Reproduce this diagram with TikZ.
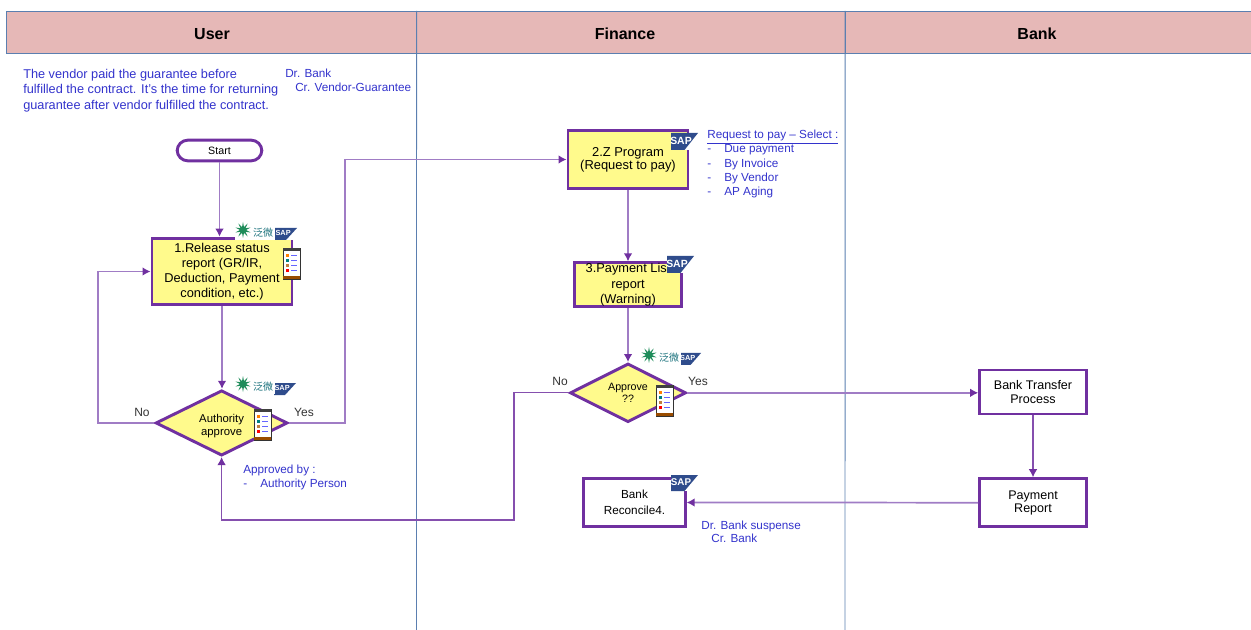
\documentclass[tikz,border=0pt]{standalone}
\usepackage{fontspec}
\setmainfont{Liberation Sans}
\newfontfamily\cjk{Noto Sans CJK SC}
\usepackage{tikz}
\usetikzlibrary{arrows.meta,shapes.geometric,positioning}
\definecolor{lanehead}{HTML}{E6B8B7}
\definecolor{laneline}{HTML}{5B7FB0}
\definecolor{boxline}{HTML}{7030A0}
\definecolor{flowline}{HTML}{A07CC5}
\definecolor{boxfill}{HTML}{FFFA8C}
\definecolor{notetext}{HTML}{3333CC}
\definecolor{sapblue}{HTML}{2F4C8C}
\definecolor{weavergreen}{HTML}{1E8C5A}
\tikzstyle{head} = [rectangle, draw=laneline, fill=lanehead, line width=.7pt, outer sep=0pt,
    minimum height=31.5pt, inner sep=0pt]
\tikzstyle{title} = [inner sep=0pt, font=\fontsize{12}{14}\selectfont\bfseries]
\tikzstyle{block} = [rectangle, draw=boxline, fill=boxfill, line width=2.2pt,
    align=center, inner sep=0pt, font=\fontsize{9.6}{11.4}\selectfont]
\tikzstyle{plainblock} = [block, fill=white, font=\fontsize{9.4}{9.9}\selectfont]
\tikzstyle{decision} = [diamond, aspect=2, draw=boxline, fill=boxfill, line width=2.2pt,
    align=center, inner sep=0pt, font=\fontsize{8.5}{9.4}\selectfont]
\tikzstyle{terminal} = [rectangle, rounded corners=8pt, draw=boxline, fill=white, line width=2.2pt,
    minimum width=63.5pt, minimum height=15.5pt, inner sep=0pt, font=\fontsize{8}{10}\selectfont]
\tikzstyle{flow} = [draw=flowline, line width=1.3pt, -{Latex[length=6pt,width=6.5pt,color=boxline]}]
\tikzstyle{darkflow} = [flow, draw=boxline!85, line width=.9pt]
\tikzstyle{note} = [anchor=north west, align=left, inner sep=0pt, text=notetext,
    font=\fontsize{8.8}{10.6}\selectfont]
\tikzstyle{answer} = [inner sep=0pt, text=black!80, font=\fontsize{9}{10}\selectfont]
\newcommand{\dashitem}[1]{\makebox[12.75pt][l]{-}#1}
% name, left, top, width, height
\newcommand{\saplogo}[5]{
  \pgfmathsetmacro{\sapsize}{#5*0.46}
  \fill[white] (#2,#3) rectangle ++(#4,#5);
  \fill[sapblue] (#2,#3) -- ++(#4,0) -- ++(-0.5*#4,#5) -- ++(-0.5*#4,0) -- cycle;
  \node[inner sep=0pt, text=white, font=\fontsize{\sapsize}{8}\selectfont\bfseries]
    (#1) at (#2+0.37*#4,#3+0.45*#5) {SAP};
}
% name, left, top
\newcommand{\weaverlogo}[3]{
  \fill[white] (#2,#3) rectangle ++(40,18);
  \node[star, star points=10, star point ratio=2.6, fill=weavergreen, inner sep=0pt, minimum size=12pt]
    (#1star) at (#2+8,#3+8) {};
  \node[inner sep=0pt, text=weavergreen!80!blue, font=\fontsize{7.5}{8}\selectfont\cjk]
    (#1text) at (#2+28,#3+11) {泛微};
}
% name, left, top
\newcommand{\phoneicon}[3]{
  \node[rectangle, draw=black!80, fill=white, line width=.6pt, minimum width=12.5pt, minimum height=23pt,
    inner sep=0pt, anchor=north west] (#1) at (#2,#3) {};
  \fill[black!75] (#2,#3) rectangle ++(17,3);
  \fill[orange!60!black] (#2,#3+28) rectangle ++(17,3);
  \foreach \row/\col in {6/orange,11/teal,16/brown,21/red}
    {
    \fill[\col] (#2+3,#3+\row) rectangle ++(3,3);
    \fill[blue!60] (#2+8,#3+\row+1) rectangle ++(6,1.2);
    }
}

\begin{document}
\begin{tikzpicture}[x=.75pt,y=-.75pt]
  \useasboundingbox (0,0) rectangle (1251,630);
  % Place lanes
  \node [head, minimum width=307.9pt, anchor=north west] (userhead) at (6,11) {};
  \node [head, minimum width=321.4pt, anchor=north west] (financehead) at (userhead.north east) {};
  \node [head, minimum width=304.5pt, anchor=north west] (bankhead) at (financehead.north east) {};
  \node [title] (usertitle) at (212,34) {User};
  \node [title] (financetitle) at (625,34) {Finance};
  \node [title] (banktitle) at (1037,34) {Bank};
  \coordinate (userend) at (416.5,630);
  \coordinate (financeend) at (845,630);
  \draw[laneline, line width=.7pt] (userhead.north east) -- (userend);
  \draw[laneline, line width=.7pt] (financehead.north east) -- (financeend);
  % Place nodes
  \node [terminal] (start) at (219.5,150.5) {Start};
  \node [block, minimum width=105pt, minimum height=50pt] (release) at (222,271.5)
  {1.Release status\\report (GR/IR,\\Deduction, Payment\\condition, etc.)};
  \node [decision, minimum width=99pt, minimum height=49pt, below of=release, node distance=113.6pt, xshift=-.3pt] (authority)
  {\rule{0pt}{10.5pt}Authority\\approve};
  \node [block, minimum width=90pt, minimum height=44pt, font=\fontsize{9.7}{9.9}\selectfont] (program) at (628,159.5)
  {2.Z Program\\(Request to pay)};
  \node [block, minimum width=80pt, minimum height=33pt, below of=program, node distance=94pt] (paylist)
  {3.Payment Lis\phantom{t}\\report\\(Warning)};
  \node [decision, minimum width=87pt, minimum height=44pt, below of=paylist, node distance=81pt, font=\fontsize{8}{9.4}\selectfont] (approve)
  {Approve\\??};
  \node [plainblock, minimum width=80pt, minimum height=33pt] (transfer) at (1033,392)
  {Bank Transfer\\Process};
  \node [plainblock, minimum width=80pt, minimum height=36pt, below of=transfer, node distance=83pt] (payment)
  {Payment\\Report};
  \node [plainblock, minimum width=76pt, minimum height=36pt, font=\fontsize{8.8}{12}\selectfont] (reconcile) at (634.5,502.5)
  {Bank\\Reconcile4.};
  % Draw edges
  \coordinate (leftturn) at (98,271.5);
  \coordinate (rightturn) at (345,159.5);
  \coordinate (backturn) at (514,520);
  \draw[flow] (start) -- (start |- release.north);
  \draw[flow] (release.south) -- (release.south |- authority.north);
  \draw[flow] (authority.west) -| (leftturn) -- (release.west);
  \draw[flow] (authority.east) -| (rightturn) -- (program.west);
  \draw[flow] (program) -- (paylist);
  \draw[flow] (paylist) -- (approve);
  \draw[flow] (approve.east) -- (approve.east -| transfer.west);
  \draw[darkflow] (approve.west) -| (backturn) -| (authority.south);
  \draw[darkflow] (transfer) -- (payment);
  \draw[flow] (payment.west) -- (reconcile.east);
  % Place labels
  \node [answer] (noleft) at (142,412.5) {No};
  \node [answer] (yesleft) at (304,412.5) {Yes};
  \node [answer] (noright) at (560,381.5) {No};
  \node [answer] (yesright) at (698,381.5) {Yes};
  \node [note, font=\fontsize{9.55}{11.6}\selectfont] (vendornote) at (23,69)
  {The vendor paid the guarantee before\\fulfilled the contract. It's the time for returning\\guarantee after vendor fulfilled the contract.};
  \node [note] (drbank) at (285,69) {Dr. Bank};
  \node [note] (crvendor) at (295,83) {Cr. Vendor-Guarantee};
  \node [note] (approvednote) at (243,465) {Approved by :\\\dashitem{Authority Person}};
  \node [note] (paynote) at (707,130)
  {\underline{Request to pay – Select :}\\\dashitem{Due payment}\\\dashitem{By Invoice}\\\dashitem{By Vendor}\\\dashitem{AP Aging}};
  \node [note] (suspense) at (701,521) {Dr. Bank suspense};
  \node [note] (crbank) at (711,534) {Cr. Bank};
  % Place logos
  \saplogo{saprelease}{275}{228}{22}{12}
  \saplogo{sapauthority}{274}{383}{22}{12}
  \saplogo{sapapprove}{680}{353}{21}{12}
  \saplogo{sapprogram}{671}{133}{27}{17}
  \saplogo{sappaylist}{667}{256}{27}{17}
  \saplogo{sapreconcile}{671}{475}{27}{16}
  \weaverlogo{weaverrelease}{235}{222}
  \weaverlogo{weaverauthority}{235}{376}
  \weaverlogo{weaverapprove}{641}{347}
  \phoneicon{phonerelease}{283}{248}
  \phoneicon{phoneauthority}{254}{409}
  \phoneicon{phoneapprove}{656}{385}
\end{tikzpicture}
\end{document}
